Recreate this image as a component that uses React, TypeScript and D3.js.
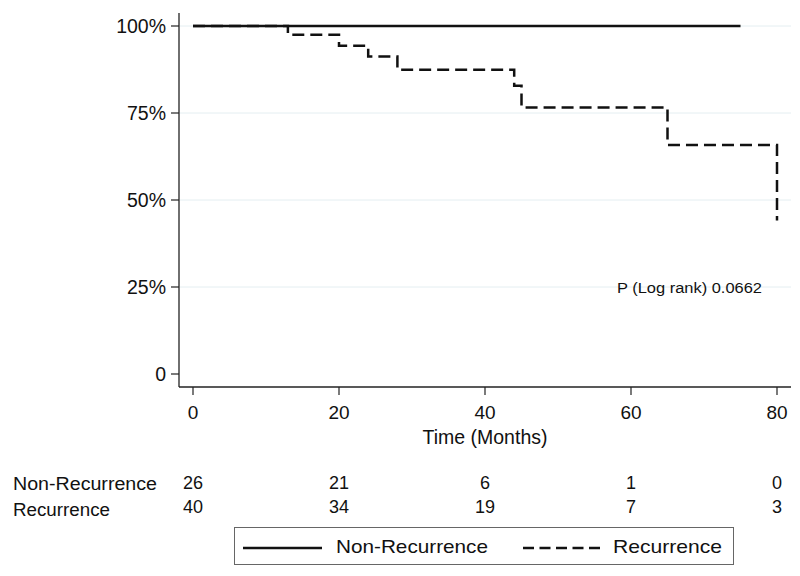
import React from "react";
import * as d3 from "d3";

const nonRecTimes = [0, 75];
const nonRecSurv = [1, 1];
const recTimes = [0, 13, 20, 24, 28, 44, 45, 65, 80];
const recSurv = [1, 0.975, 0.943, 0.912, 0.874, 0.828, 0.766, 0.658, 0.441];
const xTicks = [0, 20, 40, 60, 80];
const yTicks = [0, 0.25, 0.5, 0.75, 1];
const yTickLabels = ["0", "25%", "50%", "75%", "100%"];
const riskGroups = ["Non-Recurrence", "Recurrence"];
const riskNonRec = [26, 21, 6, 1, 0];
const riskRec = [40, 34, 19, 7, 3];

const W = 800, H = 576;
const FONT = "'Liberation Sans', Arial, sans-serif";

export default function App() {
  const x = d3.scaleLinear().domain([0, 80]).range([193, 777]);
  const y = d3.scaleLinear().domain([0, 1]).range([374, 26]);
  const line = d3.line<[number, number]>().x(d => x(d[0])).y(d => y(d[1])).curve(d3.curveStepAfter);
  const nonRecPts = nonRecTimes.map((t, i) => [t, nonRecSurv[i]] as [number, number]);
  const recPts = recTimes.map((t, i) => [t, recSurv[i]] as [number, number]);
  const riskRows = [riskNonRec, riskRec];
  return (
    <svg width={W} height={H} style={{ position: "absolute", left: 0, top: 0, background: "#fff" }} fontFamily={FONT}>
      {yTicks.filter(v => v > 0).map(v => (
        <line key={"g" + v} x1={180} x2={791} y1={y(v)} y2={y(v)} stroke="#e4eef1" strokeWidth={1} />
      ))}
      <line x1={179} x2={179} y1={13} y2={387} stroke="#222" strokeWidth={1.3} />
      <line x1={179} x2={791} y1={387} y2={387} stroke="#222" strokeWidth={1.3} />
      {yTicks.map((v, i) => (
        <g key={"y" + v}>
          <line x1={171} x2={179} y1={y(v)} y2={y(v)} stroke="#222" strokeWidth={1.2} />
          <text x={166} y={y(v)} dy="0.36em" textAnchor="end" fontSize={19.5} fill="#111">{yTickLabels[i]}</text>
        </g>
      ))}
      {xTicks.map(v => (
        <g key={"x" + v}>
          <line x1={x(v)} x2={x(v)} y1={387} y2={395} stroke="#222" strokeWidth={1.2} />
          <text x={x(v)} y={419} textAnchor="middle" fontSize={19} fill="#111">{v}</text>
        </g>
      ))}
      <text x={x(40)} y={444} textAnchor="middle" fontSize={19.5} fill="#111">Time (Months)</text>
      <path d={line(nonRecPts) || ""} fill="none" stroke="#111" strokeWidth={2.5} />
      <path d={line(recPts) || ""} fill="none" stroke="#111" strokeWidth={2.5} strokeDasharray="12,6" />
      <text x={617} y={y(0.25)} dy="0.36em" fontSize={15.5} fill="#111" textLength={145} lengthAdjust="spacingAndGlyphs">P (Log rank) 0.0662</text>
      {riskGroups.map((g, gi) => (
        <g key={g}>
          <text x={13} y={490 + gi * 26} fontSize={18} fill="#111" textLength={g === "Non-Recurrence" ? 144 : 97} lengthAdjust="spacingAndGlyphs">{g}</text>
          {riskRows[gi].map((n, i) => (
            <text key={i} x={x(xTicks[i])} y={489 + gi * 24} textAnchor="middle" fontSize={18} fill="#111">{n}</text>
          ))}
        </g>
      ))}
      <rect x={234.5} y={527.5} width={499} height={37} fill="#fff" stroke="#666" strokeWidth={1} />
      <line x1={243} x2={322} y1={548} y2={548} stroke="#111" strokeWidth={2.5} />
      <text x={336} y={553} fontSize={19} fill="#111" textLength={152} lengthAdjust="spacingAndGlyphs">Non-Recurrence</text>
      <line x1={523} x2={600} y1={548} y2={548} stroke="#111" strokeWidth={2.5} strokeDasharray="11,5.5" />
      <text x={613} y={553} fontSize={19} fill="#111" textLength={109} lengthAdjust="spacingAndGlyphs">Recurrence</text>
    </svg>
  );
}
